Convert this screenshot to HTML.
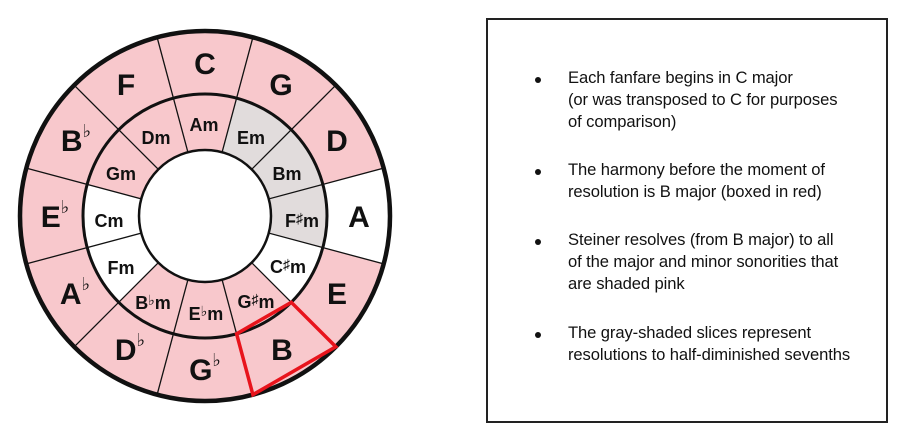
<!DOCTYPE html>
<html><head><meta charset="utf-8"><style>
html,body{margin:0;padding:0;background:#fff;}
body{width:900px;height:438px;position:relative;overflow:hidden;font-family:"Liberation Sans",sans-serif;}
svg{position:absolute;left:0;top:0;}
.box{position:absolute;left:486px;top:18px;width:402px;height:405px;border:2px solid #222;box-sizing:border-box;}
.p{position:absolute;left:568px;font-size:16.6px;line-height:22px;color:#111;white-space:nowrap;letter-spacing:-0.1px;}
.b{position:absolute;left:535px;width:6px;height:6px;border-radius:50%;background:#111;}
</style></head><body>
<svg width="900" height="438" viewBox="0 0 900 438">
<circle cx="205" cy="216" r="185" fill="#f8c8cc"/>
<path d="M205,216 L383.7,168.1 A185,185 0 0 1 383.7,263.9 Z" fill="#fff"/>
<circle cx="205" cy="216" r="122" fill="#f8c8cc"/>
<path d="M205,216 L236.6,98.2 A122,122 0 0 1 322.8,247.6 Z" fill="#e1dcdc"/>
<path d="M205,216 L322.8,247.6 A122,122 0 0 1 291.3,302.3 Z" fill="#fff"/>
<path d="M205,216 L118.7,302.3 A122,122 0 0 1 87.2,184.4 Z" fill="#fff"/>
<g stroke="#111" stroke-width="1.3">
<line x1="205" y1="216" x2="252.9" y2="37.3"/><line x1="205" y1="216" x2="335.8" y2="85.2"/>
<line x1="205" y1="216" x2="383.7" y2="168.1"/><line x1="205" y1="216" x2="383.7" y2="263.9"/>
<line x1="205" y1="216" x2="335.8" y2="346.8"/><line x1="205" y1="216" x2="252.9" y2="394.7"/>
<line x1="205" y1="216" x2="157.1" y2="394.7"/><line x1="205" y1="216" x2="74.2" y2="346.8"/>
<line x1="205" y1="216" x2="26.3" y2="263.9"/><line x1="205" y1="216" x2="26.3" y2="168.1"/>
<line x1="205" y1="216" x2="74.2" y2="85.2"/><line x1="205" y1="216" x2="157.1" y2="37.3"/>
</g>
<circle cx="205" cy="216" r="66" fill="#fff" stroke="#111" stroke-width="2.5"/>
<circle cx="205" cy="216" r="122" fill="none" stroke="#111" stroke-width="3"/>
<circle cx="205" cy="216" r="185" fill="none" stroke="#111" stroke-width="4.5"/>
<polygon points="291.3,302.3 335.8,346.8 252.9,394.7 236.6,333.8" fill="none" stroke="#e8141c" stroke-width="3.5" stroke-linejoin="miter"/>
<g font-family="Liberation Sans, DejaVu Sans, sans-serif" font-weight="bold" font-size="30" text-anchor="middle" fill="#111">
<text x="205" y="74">C</text>
<text x="281" y="95">G</text>
<text x="337" y="151">D</text>
<text x="359" y="227">A</text>
<text x="337" y="304">E</text>
<text x="282" y="360">B</text>
<text x="205" y="380">G<tspan font-size="18" dy="-14">♭</tspan></text>
<text x="130" y="360">D<tspan font-size="18" dy="-14">♭</tspan></text>
<text x="75" y="304">A<tspan font-size="18" dy="-14">♭</tspan></text>
<text x="55" y="227">E<tspan font-size="18" dy="-14">♭</tspan></text>
<text x="76" y="151">B<tspan font-size="18" dy="-14">♭</tspan></text>
<text x="126" y="95">F</text>
</g>
<g font-family="Liberation Sans, DejaVu Sans, sans-serif" font-weight="bold" font-size="18" text-anchor="middle" fill="#111">
<text x="204" y="131">Am</text>
<text x="251" y="144">Em</text>
<text x="287" y="180">Bm</text>
<text x="302" y="227">F<tspan font-size="14" dy="-4">♯</tspan><tspan dy="4">m</tspan></text>
<text x="288" y="273">C<tspan font-size="14" dy="-4">♯</tspan><tspan dy="4">m</tspan></text>
<text x="256" y="308">G<tspan font-size="14" dy="-4">♯</tspan><tspan dy="4">m</tspan></text>
<text x="206" y="320">E<tspan font-size="14" dy="-4">♭</tspan><tspan dy="4">m</tspan></text>
<text x="153" y="309">B<tspan font-size="14" dy="-4">♭</tspan><tspan dy="4">m</tspan></text>
<text x="121" y="274">Fm</text>
<text x="109" y="227">Cm</text>
<text x="121" y="180">Gm</text>
<text x="156" y="144">Dm</text>
</g>
</svg>
<div class="box"></div>
<div class="b" style="top:77px"></div>
<div class="p" style="top:67px">Each fanfare begins in C major<br>(or was transposed to C for purposes<br>of comparison)</div>
<div class="b" style="top:169px"></div>
<div class="p" style="top:159px">The harmony before the moment of<br>resolution is B major (boxed in red)</div>
<div class="b" style="top:239px"></div>
<div class="p" style="top:229px">Steiner resolves (from B major) to all<br>of the major and minor sonorities that<br>are shaded pink</div>
<div class="b" style="top:332px"></div>
<div class="p" style="top:322px">The gray-shaded slices represent<br>resolutions to half-diminished sevenths</div>
</body></html>
